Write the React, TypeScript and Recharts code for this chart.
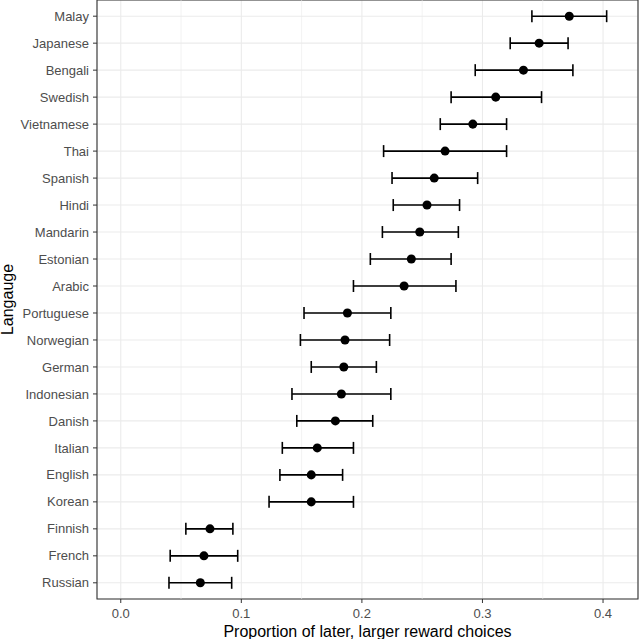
import React from 'react'
import {
  ScatterChart,
  Scatter,
  XAxis,
  YAxis,
  CartesianGrid,
  ErrorBar,
  ReferenceLine,
  ReferenceArea
} from 'recharts'

document.body.style.margin = '0'

const languages = [
  'Malay', 'Japanese', 'Bengali', 'Swedish', 'Vietnamese', 'Thai', 'Spanish', 'Hindi',
  'Mandarin', 'Estonian', 'Arabic', 'Portuguese', 'Norwegian', 'German', 'Indonesian',
  'Danish', 'Italian', 'English', 'Korean', 'Finnish', 'French', 'Russian'
]
const proportion = [
  0.372, 0.347, 0.334, 0.311, 0.292, 0.269, 0.260, 0.254, 0.248, 0.241, 0.235,
  0.188, 0.186, 0.185, 0.183, 0.178, 0.163, 0.158, 0.158, 0.074, 0.069, 0.066
]
const lower = [
  0.341, 0.323, 0.294, 0.274, 0.265, 0.218, 0.225, 0.226, 0.217, 0.207, 0.193,
  0.152, 0.149, 0.158, 0.142, 0.146, 0.134, 0.132, 0.123, 0.054, 0.041, 0.040
]
const upper = [
  0.403, 0.371, 0.375, 0.349, 0.320, 0.320, 0.296, 0.281, 0.280, 0.274, 0.278,
  0.224, 0.223, 0.212, 0.224, 0.209, 0.193, 0.184, 0.193, 0.093, 0.097, 0.092
]
const xTicks = [0, 0.1, 0.2, 0.3, 0.4]
const xMinorTicks = [0.05, 0.15, 0.25, 0.35]

const data = languages.map((name, i) => ({
  name,
  idx: i,
  x: proportion[i],
  err: [proportion[i] - lower[i], upper[i] - proportion[i]]
}))

const X_DOMAIN: [number, number] = [-0.0197, 0.429]
const Y_DOMAIN: [number, number] = [-0.6, languages.length - 1 + 0.6]
const font = '"Liberation Sans", Arial, sans-serif'
const tickStyle = { fill: '#4D4D4D', fontSize: 13, fontFamily: font }

export default function App() {
  return (
    <div style={{ width: 640, height: 639, background: '#fff' }}>
      <ScatterChart width={640} height={639} margin={{ top: 0, right: 2, left: 0, bottom: 0 }}>
        <CartesianGrid stroke="#EBEBEB" strokeWidth={1.1} />
        {xMinorTicks.map(v => (
          <ReferenceLine key={v} x={v} stroke="#EBEBEB" strokeWidth={0.6} />
        ))}
        <XAxis
          type="number"
          dataKey="x"
          domain={X_DOMAIN}
          allowDataOverflow
          ticks={xTicks}
          tickFormatter={(v: number) => v.toFixed(1)}
          height={40}
          tick={tickStyle}
          tickSize={4}
          tickMargin={6}
          tickLine={{ stroke: '#333333' }}
          axisLine={false}
          label={{
            value: 'Proportion of later, larger reward choices',
            position: 'insideBottom',
            offset: 2.5,
            style: { fill: '#000', fontSize: 16, fontFamily: font }
          }}
        />
        <YAxis
          type="number"
          dataKey="idx"
          domain={Y_DOMAIN}
          reversed
          allowDataOverflow
          ticks={languages.map((_, i) => i)}
          interval={0}
          tickFormatter={(i: number) => languages[i]}
          width={97}
          tick={tickStyle}
          tickSize={4}
          tickMargin={4}
          tickLine={{ stroke: '#333333' }}
          axisLine={false}
          label={{
            value: 'Langauge',
            angle: -90,
            position: 'insideLeft',
            offset: 7,
            style: { fill: '#000', fontSize: 16, fontFamily: font, textAnchor: 'middle' }
          }}
        />
        <Scatter data={data} fill="#000" isAnimationActive={false}>
          <ErrorBar dataKey="err" direction="x" width={6} stroke="#000" strokeWidth={1.6} />
        </Scatter>
        <ReferenceArea
          x1={X_DOMAIN[0]}
          x2={X_DOMAIN[1]}
          y1={Y_DOMAIN[0]}
          y2={Y_DOMAIN[1]}
          fill="none"
          stroke="#333333"
          strokeWidth={1.1}
          ifOverflow="visible"
        />
      </ScatterChart>
    </div>
  )
}
